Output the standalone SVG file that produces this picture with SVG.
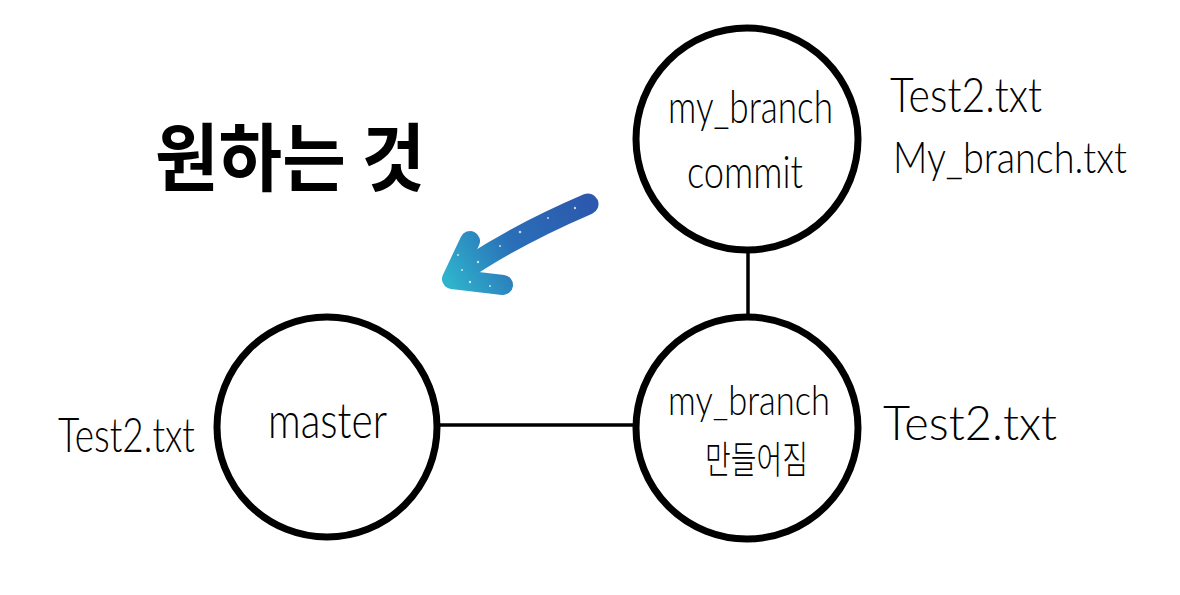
<svg xmlns="http://www.w3.org/2000/svg" width="1180" height="595" viewBox="0 0 1180 595">
  <style>
    .node { fill: #ffffff; stroke: #000000; stroke-width: 7; }
    .rim { fill: none; stroke: #000000; stroke-width: 4; stroke-linecap: round; }
    .edge { stroke: #000000; stroke-width: 3.5; fill: none; }
    .lbl { font-family: "Lato", "Noto Sans", "Noto Sans CJK KR", sans-serif; font-weight: 300; fill: #000000; }
    .kr { font-family: "Noto Sans CJK KR", "Noto Sans", sans-serif; fill: #000000; }
  </style>
  <defs>
    <linearGradient id="glitter" gradientUnits="userSpaceOnUse" x1="590" y1="200" x2="450" y2="285">
      <stop offset="0" stop-color="#2c58ad"/>
      <stop offset="0.55" stop-color="#2a6fb8"/>
      <stop offset="1" stop-color="#2fb3cc"/>
    </linearGradient>
  </defs>
  <rect width="1180" height="595" fill="#ffffff"/>

  <g id="connectors">
    <line class="edge" x1="440" y1="425" x2="634" y2="425"/>
    <line class="edge" x1="748" y1="250" x2="748" y2="318"/>
  </g>

  <g id="title">
    <text class="kr" x="155" y="185" font-size="74" font-weight="bold" textLength="270" lengthAdjust="spacingAndGlyphs">원하는 것</text>
  </g>

  <g id="arrow">
    <path d="M588,204 C560,216 510,238 458,274" fill="none" stroke="url(#glitter)" stroke-width="21" stroke-linecap="round"/>
    <path d="M470,241 L452,279 L503,285" fill="none" stroke="url(#glitter)" stroke-width="20" stroke-linecap="round" stroke-linejoin="round"/>
    <g fill="#ffffff" opacity="0.75">
      <circle cx="575" cy="208" r="1.2"/>
      <circle cx="548" cy="218" r="1"/>
      <circle cx="520" cy="232" r="1.3"/>
      <circle cx="500" cy="246" r="1"/>
      <circle cx="478" cy="262" r="1.2"/>
      <circle cx="462" cy="270" r="1"/>
      <circle cx="470" cy="282" r="1.2"/>
      <circle cx="490" cy="286" r="1"/>
      <circle cx="458" cy="255" r="1"/>
    </g>
  </g>

  <g id="node-master">
    <circle class="node" cx="327" cy="427" r="110"/>
    <path class="rim" d="M400,345 A110,110 0 0 1 400,509"/>
    <text class="lbl" x="268" y="438" font-size="50" textLength="119" lengthAdjust="spacingAndGlyphs">master</text>
  </g>

  <g id="node-branch-created">
    <circle class="node" cx="747" cy="428" r="111"/>
    <path class="rim" d="M820,345 A111,111 0 0 1 820,511"/>
    <text class="lbl" x="668" y="415" font-size="42" textLength="162" lengthAdjust="spacingAndGlyphs">my_branch</text>
    <text class="kr" x="705" y="473" font-size="38" font-weight="300" textLength="103" lengthAdjust="spacingAndGlyphs">만들어짐</text>
  </g>

  <g id="node-branch-commit">
    <circle class="node" cx="747" cy="139" r="111"/>
    <path class="rim" d="M820,56 A111,111 0 0 1 820,222"/>
    <text class="lbl" x="668" y="123" font-size="46" textLength="165" lengthAdjust="spacingAndGlyphs">my_branch</text>
    <text class="lbl" x="687" y="188" font-size="46" textLength="116" lengthAdjust="spacingAndGlyphs">commit</text>
  </g>

  <g id="files">
    <text class="lbl" x="890" y="112" font-size="48" textLength="152" lengthAdjust="spacingAndGlyphs">Test2.txt</text>
    <text class="lbl" x="893" y="173" font-size="44" textLength="234" lengthAdjust="spacingAndGlyphs">My_branch.txt</text>
    <text class="lbl" x="883" y="440" font-size="48" textLength="174" lengthAdjust="spacingAndGlyphs">Test2.txt</text>
    <text class="lbl" x="58" y="452" font-size="48" textLength="137" lengthAdjust="spacingAndGlyphs">Test2.txt</text>
  </g>
</svg>
